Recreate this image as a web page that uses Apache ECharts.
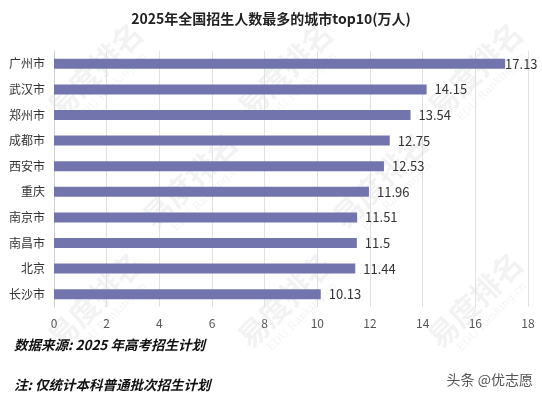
<!DOCTYPE html>
<html>
<head>
    <meta charset="utf-8">
    <title>2025年全国招生人数最多的城市top10</title>
    <script src="https://cdn.jsdelivr.net/npm/echarts@6/dist/echarts.min.js"></script>
    <style>
        html, body { margin: 0; padding: 0; background: #fff; }
        #main { width: 542px; height: 398px; }
    </style>
</head>
<body>
<div id="main"></div>
<script type="text/javascript">
    // 城市（从上到下）
    var cities = ['广州市', '武汉市', '郑州市', '成都市', '西安市', '重庆', '南京市', '南昌市', '北京', '长沙市'];
    // 招生人数（万人）
    var nums = [17.13, 14.15, 13.54, 12.75, 12.53, 11.96, 11.51, 11.5, 11.44, 10.13];
    var xTicks = [0, 2, 4, 6, 8, 10, 12, 14, 16, 18];

    var myChart = echarts.init(document.getElementById('main'));
    var font = '"Noto Sans CJK SC", "Open Sans", sans-serif';

    // 水印（易度排名）
    var marks = [];
    var spots = [[95, 70], [285, 70], [475, 70], [190, 180], [380, 180], [95, 300], [285, 300], [475, 300]];
    for (var i = 0; i < spots.length; i++) {
        marks.push({
            type: 'group', x: spots[i][0], y: spots[i][1], rotation: Math.PI / 4, silent: true, z: -10,
            children: [
                { type: 'text', style: { text: '易度排名', fill: 'rgba(0,0,0,0.05)', font: 'bold 30px "Noto Sans CJK SC"', align: 'center', verticalAlign: 'middle' } },
                { type: 'text', y: 24, style: { text: 'EDU Ranking.cn', fill: 'rgba(0,0,0,0.05)', font: '11px "DejaVu Serif"', align: 'center', verticalAlign: 'middle' } }
            ]
        });
    }

    myChart.setOption({
        animation: false,
        title: {
            text: '2025年全国招生人数最多的城市top10(万人)',
            left: 'center',
            top: 7,
            textStyle: { fontSize: 14, fontWeight: 'bold', color: '#222', fontFamily: font }
        },
        grid: { left: 54, right: 14, top: 51, bottom: 91 },
        xAxis: {
            type: 'value',
            min: xTicks[0],
            max: xTicks[xTicks.length - 1],
            interval: 2,
            axisLine: { show: false },
            axisTick: { show: false },
            splitLine: { lineStyle: { color: '#e0e0e0' } },
            axisLabel: { color: '#555', fontSize: 12, margin: 10, fontFamily: font }
        },
        yAxis: {
            type: 'category',
            data: cities,
            inverse: true,
            axisLine: { lineStyle: { color: '#d0d0d0' } },
            axisTick: { show: false },
            axisLabel: { color: '#333', fontSize: 12, margin: 9, fontFamily: font }
        },
        series: [{
            type: 'bar',
            data: nums.map(function (v, i) {
                // 最长的一根标签贴着柱子
                return i === 0 ? { value: v, label: { distance: 0 } } : v;
            }),
            barWidth: 10,
            itemStyle: { color: '#7275ad' },
            label: {
                show: true,
                position: 'right',
                distance: 8,
                color: '#333',
                fontSize: 13,
                fontFamily: font
            }
        }],
        graphic: marks.concat([
            {
                type: 'text', left: 14, top: 338,
                style: { text: '数据来源: 2025 年高考招生计划', fill: '#111', font: 'italic bold 13.5px "Noto Sans CJK SC", sans-serif' }
            },
            {
                type: 'text', left: 14, top: 378,
                style: { text: '注: 仅统计本科普通批次招生计划', fill: '#111', font: 'italic bold 13.5px "Noto Sans CJK SC", sans-serif' }
            },
            {
                type: 'text', right: 9, top: 373,
                style: { text: '头条 @优志愿', fill: '#555', font: '14px "Noto Sans CJK SC", sans-serif' }
            }
        ])
    });
</script>
</body>
</html>
